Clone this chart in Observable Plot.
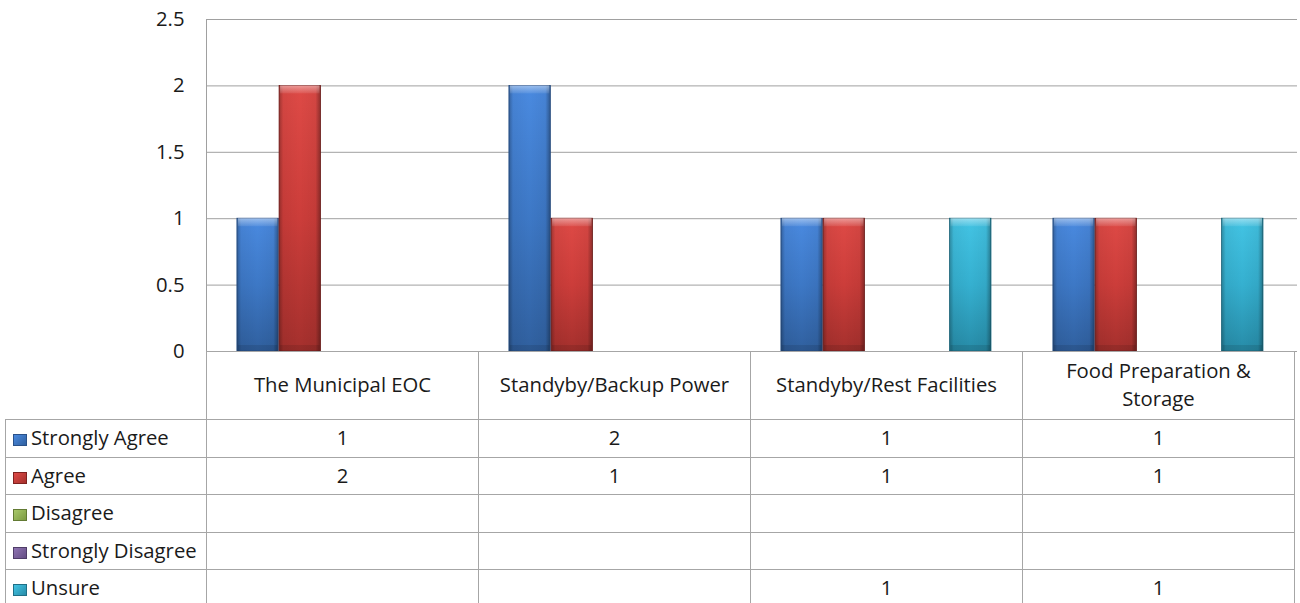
<!DOCTYPE html>
<html><head><meta charset="utf-8">
<script src="https://cdn.jsdelivr.net/npm/d3@7"></script>
<script src="https://cdn.jsdelivr.net/npm/@observablehq/plot@0.6"></script>
<style>
body{margin:0;background:#fff;}
#wrap{position:relative;width:1300px;height:603px;overflow:hidden;font-family:"Open Sans",sans-serif;color:#1a1a1a;}
#chart{position:absolute;left:0;top:0;}
#tbl{position:absolute;left:5px;top:351px;border-collapse:collapse;table-layout:fixed;font-size:20.3px;background:transparent;}
#tbl td{border:1px solid #a6a6a6;text-align:center;padding:0 0 3px 0;line-height:1.38;}
#tbl td.lab{text-align:left;padding-left:7px;white-space:nowrap;}
#tbl td.hdr{padding:0 16px 3px 16px;}
#tbl td.corner{border-top:none;border-left:none;}
.ico{display:inline-block;width:14px;height:12px;margin-right:4px;vertical-align:-1px;box-sizing:border-box;}
</style></head><body><div id="wrap"><div id="chart"></div><table id="tbl"></table></div>
<script>
const categories = ["The Municipal EOC", "Standyby/Backup Power", "Standyby/Rest Facilities", "Food Preparation & Storage"];
const seriesNames = ["Strongly Agree", "Agree", "Disagree", "Strongly Disagree", "Unsure"];
const stronglyAgree = [1, 2, 1, 1];
const agree = [2, 1, 1, 1];
const disagree = [null, null, null, null];
const stronglyDisagree = [null, null, null, null];
const unsure = [null, null, 1, 1];
const yTicks = [0, 0.5, 1, 1.5, 2, 2.5];

const seriesValues = [stronglyAgree, agree, disagree, stronglyDisagree, unsure];
const palette = [
  {top: "#4a8ae0", mid: "#3d78c6", bot: "#30609f", edge: "#2a5189"},
  {top: "#de4a46", mid: "#cc3d3a", bot: "#a5302d", edge: "#7e2220"},
  {top: "#a8c96a", mid: "#9bbb59", bot: "#7c9a42", edge: "#627a33"},
  {top: "#8f74b3", mid: "#8064a2", bot: "#654e84", edge: "#4f3d68"},
  {top: "#43c4e4", mid: "#35b0d0", bot: "#278ca8", edge: "#1f6f86"}
];

const rows = [];
seriesNames.forEach((s, i) => categories.forEach((c, j) => {
  const v = seriesValues[i][j];
  if (v != null) rows.push({series: s, si: i, category: c, value: v});
}));

const W = 1300, mL = 206, mR = 3, mT = 19, zeroY = 351;
const H = zeroY + 20;
const band = (W - mL - mR) / categories.length;
const groupStart = band * 0.106;          // gap before the first bar in a group
const step = band * 0.773 / seriesNames.length;
const inset = (band - step) / 2;

const barMarks = [];
seriesNames.forEach((s, i) => {
  const d = rows.filter(r => r.si === i);
  const dx = groupStart + i * step + step / 2 - band / 2;
  const opts = {x: "category", dx, insetLeft: inset, insetRight: inset};
  barMarks.push(Plot.barY(d, {...opts, y: "value", fill: `url(#grad${i})`, stroke: palette[i].edge, strokeWidth: 0.8}));
  barMarks.push(Plot.barY(d, {...opts, y: "value", fill: "url(#shadeH)"}));
  barMarks.push(Plot.barY(d, {...opts, y1: "value", y2: "value", insetBottom: -8, insetLeft: inset + 1, insetRight: inset + 1, fill: "url(#bevelTop)"}));
  barMarks.push(Plot.barY(d, {...opts, y1: 0, y2: 0, insetTop: -6, insetLeft: inset + 1, insetRight: inset + 1, fill: "#000", fillOpacity: 0.1}));
});

const chart = Plot.plot({
  width: W, height: H,
  marginLeft: mL, marginRight: mR, marginTop: mT, marginBottom: H - zeroY,
  style: {fontFamily: "'Open Sans', sans-serif", fontSize: "20.3px", color: "#1a1a1a", background: "transparent"},
  x: {domain: categories, padding: 0, axis: null},
  y: {domain: [0, 2.5], ticks: yTicks, label: null},
  marks: [
    Plot.ruleY(yTicks, {stroke: "#a0a0a0", strokeWidth: 1}),
    Plot.frame({anchor: "left", stroke: "#a0a0a0"}),
    Plot.axisY({ticks: yTicks, tickSize: 0, tickPadding: 22, tickFormat: d => String(d), fontSize: 20.3, label: null}),
    ...barMarks
  ]
});

const svg = d3.select(chart);
const defs = svg.insert("defs", ":first-child");
palette.forEach((p, i) => {
  const g = defs.append("linearGradient").attr("id", `grad${i}`).attr("x1", 0).attr("y1", 0).attr("x2", 0).attr("y2", 1);
  g.append("stop").attr("offset", "0").attr("stop-color", p.top);
  g.append("stop").attr("offset", "0.5").attr("stop-color", p.mid);
  g.append("stop").attr("offset", "1").attr("stop-color", p.bot);
});
const sh = defs.append("linearGradient").attr("id", "shadeH").attr("x1", 0).attr("y1", 0).attr("x2", 1).attr("y2", 0);
[[0, 0.28], [0.1, 0.05], [0.5, 0], [0.88, 0.05], [1, 0.35]].forEach(([o, a]) =>
  sh.append("stop").attr("offset", o).attr("stop-color", "#000").attr("stop-opacity", a));
const bv = defs.append("linearGradient").attr("id", "bevelTop").attr("x1", 0).attr("y1", 0).attr("x2", 0).attr("y2", 1);
[[0, 0.45], [1, 0.08]].forEach(([o, a]) =>
  bv.append("stop").attr("offset", o).attr("stop-color", "#fff").attr("stop-opacity", a));
document.getElementById("chart").appendChild(chart);

// data table below the plot, columns aligned to the x scale
const xs = chart.scale("x");
const bw = xs.bandwidth;
const tbl = d3.select("#tbl");
const cg = tbl.append("colgroup");
cg.append("col").style("width", (mL - 5) + "px");
categories.forEach(() => cg.append("col").style("width", bw + "px"));
const hr = tbl.append("tr").style("height", "68px");
hr.append("td").attr("class", "corner");
categories.forEach(c => hr.append("td").attr("class", "hdr").text(c));
const rh = [38, 37, 38, 37, 38];
seriesNames.forEach((s, i) => {
  const tr = tbl.append("tr").style("height", rh[i] + "px");
  const td = tr.append("td").attr("class", "lab");
  const p = palette[i];
  td.append("span").attr("class", "ico")
    .style("background", `linear-gradient(135deg, ${p.top}, ${p.bot})`)
    .style("border", `1px solid ${p.edge}`);
  td.append("span").text(s);
  categories.forEach((c, j) => tr.append("td").text(seriesValues[i][j] == null ? "" : String(seriesValues[i][j])));
});
</script></body></html>
